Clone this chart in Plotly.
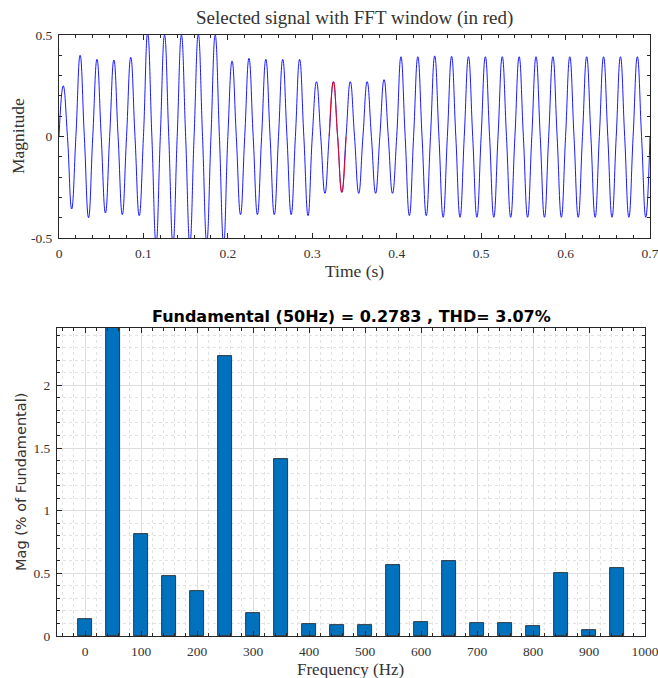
import plotly.graph_objects as go

# ---------------- data ----------------
# Time-domain signal: 50 Hz waveform, extremes read per cycle (peak at 0.005+0.02k, trough at 0.015+0.02k)
signal_peaks = [0.25, 0.40, 0.38, 0.377, 0.39,
                0.51, 0.50, 0.50, 0.505, 0.50,
                0.372, 0.385, 0.38, 0.38, 0.38,
                0.27, 0.27, 0.27, 0.27, 0.28,
                0.393, 0.393, 0.397, 0.395, 0.393,
                0.393, 0.393, 0.393, 0.393, 0.393,
                0.393, 0.393, 0.393, 0.393, 0.393]
signal_troughs = [-0.357, -0.40, -0.377, -0.385, -0.39,
                  -0.53, -0.53, -0.53, -0.52, -0.53,
                  -0.385, -0.385, -0.385, -0.385, -0.39,
                  -0.28, -0.275, -0.28, -0.28, -0.28,
                  -0.39, -0.39, -0.398, -0.398, -0.398,
                  -0.398, -0.398, -0.398, -0.398, -0.398,
                  -0.398, -0.398, -0.398, -0.398, -0.398]
period = 0.02
fft_window = [0.32, 0.34]

# Spectrum
freqs = [0, 50, 100, 150, 200, 250, 300, 350, 400, 450, 500,
         550, 600, 650, 700, 750, 800, 850, 900, 950]
mags = [0.133, 100.0, 0.813, 0.475, 0.36, 2.236, 0.187, 1.413, 0.096, 0.088, 0.088,
        0.565, 0.109, 0.60, 0.101, 0.107, 0.08, 0.504, 0.045, 0.539]

title_top = "Selected signal with FFT window (in red)"
title_bottom = "Fundamental (50Hz) = 0.2783 , THD= 3.07%"

# ---------------- build vertices (zero crossings + read extremes) ----------------
t_pts, y_pts = [], []
for k, (p, q) in enumerate(zip(signal_peaks, signal_troughs)):
    t0 = k * period
    t_pts += [t0, t0 + period / 4, t0 + period / 2, t0 + 3 * period / 4]
    y_pts += [0.0, p, 0.0, q]
t_pts.append(len(signal_peaks) * period)
y_pts.append(0.0)

red_t = [t for t in t_pts if fft_window[0] - 1e-9 <= t <= fft_window[1] + 1e-9]
red_y = [y for t, y in zip(t_pts, y_pts) if fft_window[0] - 1e-9 <= t <= fft_window[1] + 1e-9]

W, H = 658, 678
def px(x):
    return x / W
def py(y):
    return 1 - y / H

SERIF = "Liberation Serif"
SANS = "DejaVu Sans"
AX = "#262626"
TXT = "#333333"

fig = go.Figure()
fig.add_trace(go.Scatter(x=t_pts, y=y_pts, mode="lines",
                         line=dict(color="#0000FF", width=0.9, shape="spline", smoothing=1.3),
                         xaxis="x", yaxis="y", showlegend=False, hoverinfo="skip"))
fig.add_trace(go.Scatter(x=red_t, y=red_y, mode="lines",
                         line=dict(color="#FF0000", width=0.9, shape="spline", smoothing=1.3),
                         xaxis="x", yaxis="y", showlegend=False, hoverinfo="skip"))
fig.add_trace(go.Bar(x=freqs, y=mags, width=25,
                     marker=dict(color="#0072BD", line=dict(color="#1a1a1a", width=0.8)),
                     xaxis="x2", yaxis="y2", showlegend=False))

common = dict(showline=True, linecolor=AX, linewidth=1, mirror="allticks",
              ticks="inside", tickcolor=AX, ticklen=5, tickwidth=1,
              zeroline=False, automargin=False, ticklabeloverflow="allow",
              ticklabelstandoff=3,
              tickfont=dict(family=SERIF, size=13.5, color=TXT))

fig.update_layout(
    width=W, height=H, margin=dict(l=0, r=0, t=0, b=0, autoexpand=False),
    paper_bgcolor="white", plot_bgcolor="white",
    xaxis=dict(domain=[px(59), px(650)], range=[0, 0.7], anchor="y",
               tickvals=[0, 0.1, 0.2, 0.3, 0.4, 0.5, 0.6, 0.7],
               ticktext=["0", "0.1", "0.2", "0.3", "0.4", "0.5", "0.6", "0.7"],
               showgrid=False,
               minor=dict(dtick=0.02, tick0=0, ticks="inside", ticklen=3, tickcolor=AX, showgrid=False),
               **common),
    yaxis=dict(domain=[py(238), py(35)], range=[-0.5, 0.5], anchor="x",
               tickvals=[-0.5, 0, 0.5], ticktext=["-0.5", "0", "0.5"],
               showgrid=False,
               minor=dict(dtick=0.1, tick0=0, ticks="inside", ticklen=3, tickcolor=AX, showgrid=False),
               **common),
    xaxis2=dict(domain=[px(57), px(645)], range=[-50, 1000], anchor="y2",
                tickvals=list(range(0, 1001, 100)),
                showgrid=True, gridcolor="#dedede", gridwidth=1,
                minor=dict(dtick=20, tick0=0, ticks="inside", ticklen=3, tickcolor=AX,
                           showgrid=True, gridcolor="#e2e2e2", griddash="dot", gridwidth=1),
                **common),
    yaxis2=dict(domain=[py(636), py(328)], range=[0, 2.458], anchor="x2",
                tickvals=[0, 0.5, 1, 1.5, 2], ticktext=["0", "0.5", "1", "1.5", "2"],
                showgrid=True, gridcolor="#dedede", gridwidth=1,
                minor=dict(dtick=0.1, tick0=0, ticks="inside", ticklen=3, tickcolor=AX,
                           showgrid=True, gridcolor="#e2e2e2", griddash="dot", gridwidth=1),
                **common),
    bargap=0,
)

def ann(text, x, y, family, size, color=TXT, angle=0):
    fig.add_annotation(text=text, x=px(x), y=py(y), xref="paper", yref="paper",
                       xanchor="center", yanchor="middle", showarrow=False, textangle=angle,
                       font=dict(family=family, size=size, color=color))

ann(title_top, 354, 18, SERIF, 19)
ann("Magnitude", 18, 136, SERIF, 17.5, angle=-90)
ann("Time (s)", 354, 271, SERIF, 17.5)
ann("<b>" + title_bottom + "</b>", 351, 316, SANS, 16, color="#000000")
ann("Mag (% of Fundamental)", 21, 482, SANS, 14.5, angle=-90)
ann("Frequency (Hz)", 350, 669, SERIF, 17)

fig.write_html("out.html")
